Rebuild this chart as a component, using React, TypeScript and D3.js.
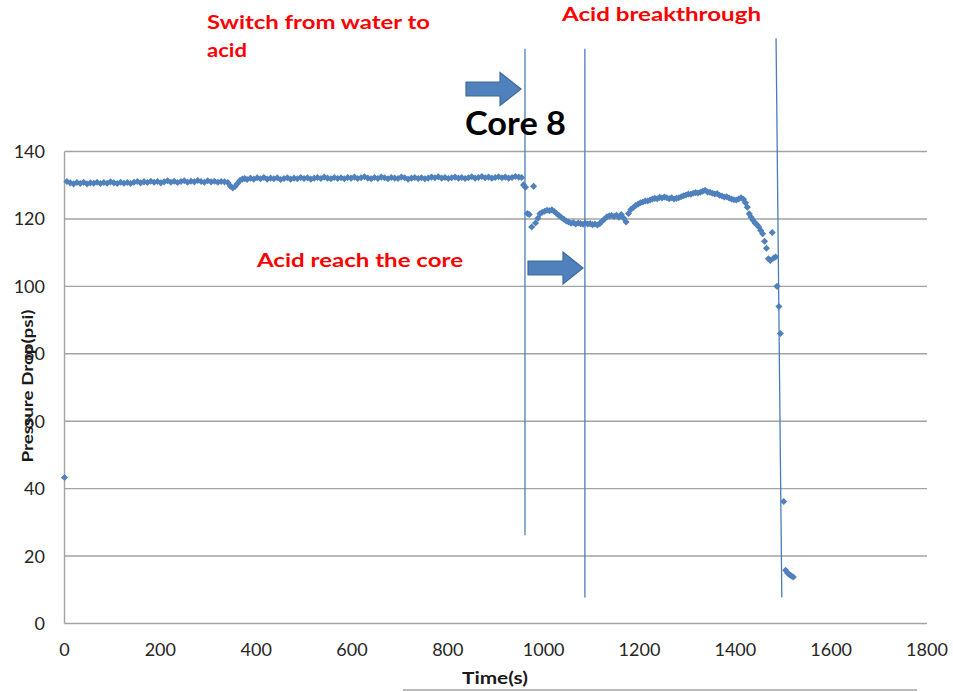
import React from "react";
import * as d3 from "d3";

// ---- data (time in s, pressure drop in psi) ----
const startPoint: [number, number][] = [[0, 43.3]];

const waterPhase: [number, number][] = [
  [5, 131.1], [12, 130.7], [19, 130.4], [26, 130.8], [33, 130.5], [40, 130.9], [47, 130.4], [54, 130.7],
  [61, 130.6], [68, 130.9], [75, 130.5], [82, 130.8], [89, 130.6], [96, 131.0], [103, 130.7], [110, 130.5],
  [117, 130.9], [124, 130.6], [131, 130.8], [138, 130.5], [145, 130.9], [152, 131.1], [159, 130.7], [166, 131.0],
  [173, 130.8], [180, 131.2], [187, 130.9], [194, 131.1], [201, 130.7], [208, 131.0], [215, 131.3], [222, 130.9],
  [229, 131.2], [236, 130.8], [243, 131.1], [250, 131.3], [257, 130.9], [264, 131.2], [271, 131.0], [278, 131.4],
  [285, 131.1], [292, 130.9], [299, 131.3], [306, 131.0], [313, 131.2], [320, 130.9], [327, 131.1], [334, 131.0],
  [341, 130.8], [346, 129.8], [351, 129.2], [356, 129.6], [361, 130.5], [366, 131.4], [371, 131.8], [376, 132.0],
  [381, 131.7], [388, 132.1], [395, 131.8], [402, 132.2], [409, 131.9], [416, 132.3], [423, 131.8], [430, 132.1],
  [437, 131.9], [444, 132.2], [451, 131.7], [458, 132.0], [465, 132.2], [472, 131.8], [479, 132.1], [486, 131.9],
  [493, 132.3], [500, 132.0], [507, 132.2], [514, 131.8], [521, 132.1], [528, 132.3], [535, 132.0], [542, 132.4],
  [549, 132.1], [556, 131.9], [563, 132.3], [570, 132.0], [577, 132.2], [584, 131.9], [591, 132.3], [598, 132.1],
  [605, 132.4], [612, 132.0], [619, 132.2], [626, 132.5], [633, 132.1], [640, 131.9], [647, 132.3], [654, 132.0],
  [661, 132.4], [668, 132.2], [675, 131.9], [682, 132.3], [689, 132.1], [696, 132.0], [703, 132.4], [710, 132.2],
  [717, 131.8], [724, 132.1], [731, 132.3], [738, 132.0], [745, 132.2], [752, 131.9], [759, 132.1], [766, 132.4],
  [773, 132.2], [780, 132.5], [787, 132.1], [794, 132.3], [801, 132.0], [808, 132.2], [815, 132.4], [822, 132.1],
  [829, 132.3], [836, 132.0], [843, 132.2], [850, 132.5], [857, 132.1], [864, 132.3], [871, 132.6], [878, 132.2],
  [885, 132.4], [892, 132.1], [899, 132.3], [906, 132.5], [913, 132.2], [920, 132.4], [927, 132.1], [934, 132.3],
  [941, 132.6], [948, 132.4], [954, 132.3],
];

const acidPhase: [number, number][] = [
  [958, 130.1], [962, 129.4], [966, 121.6], [970, 121.3], [975, 117.6], [979, 129.7], [983, 118.8], [988, 120.2],
  [992, 121.5], [997, 122.0], [1002, 122.3], [1007, 122.6], [1012, 122.4], [1017, 122.7], [1022, 122.2], [1027, 121.6],
  [1032, 121.0], [1037, 120.4], [1042, 119.9], [1047, 119.4], [1052, 119.1], [1057, 118.7], [1062, 118.9], [1067, 118.5],
  [1072, 118.8], [1077, 118.6], [1082, 118.4], [1087, 118.7], [1092, 118.5], [1097, 118.6], [1102, 118.3], [1107, 118.5],
  [1112, 118.2], [1117, 118.6], [1122, 119.3], [1127, 120.0], [1132, 120.6], [1137, 120.9], [1142, 121.0], [1147, 120.7],
  [1152, 121.1], [1157, 120.5], [1162, 121.3], [1167, 120.2], [1172, 119.1], [1177, 121.6], [1182, 122.8], [1187, 123.4],
  [1192, 124.0], [1197, 124.4], [1202, 124.8], [1207, 125.0], [1212, 125.3], [1217, 125.3], [1222, 125.6], [1227, 125.9],
  [1232, 126.1], [1237, 126.0], [1242, 126.4], [1247, 126.2], [1252, 126.5], [1257, 126.3], [1262, 126.0], [1267, 126.3],
  [1272, 125.9], [1277, 126.1], [1282, 126.3], [1287, 126.6], [1292, 126.9], [1297, 127.1], [1302, 127.4], [1307, 127.3],
  [1312, 127.6], [1317, 127.8], [1322, 127.7], [1327, 127.9], [1332, 128.2], [1337, 128.5], [1342, 128.0], [1347, 127.9],
  [1352, 127.6], [1357, 127.4], [1362, 127.5], [1367, 127.0], [1372, 126.8], [1377, 126.5], [1382, 126.6], [1387, 126.2],
  [1392, 125.9], [1397, 125.7], [1402, 125.6], [1407, 125.9], [1412, 126.3], [1417, 125.8], [1421, 124.8], [1425, 123.5],
  [1429, 121.5], [1433, 120.5], [1437, 119.6], [1441, 118.8], [1445, 118.3], [1449, 117.6], [1453, 116.6], [1457, 115.6],
  [1461, 113.4], [1465, 111.3], [1469, 108.2], [1473, 107.7], [1477, 116.0], [1480, 108.4], [1484, 108.7], [1487, 100.0],
  [1491, 94.0], [1494, 86.0], [1501, 36.2], [1505, 15.8], [1509, 15.0], [1513, 14.5], [1517, 14.1], [1521, 13.8],
];

const xTicks = [0, 200, 400, 600, 800, 1000, 1200, 1400, 1600, 1800];
const yTicks = [0, 20, 40, 60, 80, 100, 120, 140];

// annotation vertical lines: [time top, value top, time bottom, value bottom]
const eventLines: [number, number, number, number][] = [
  [961, 170.5, 961, 26.2],
  [1086, 170.5, 1086, 7.7],
  [1485, 173.6, 1497, 7.7],
];

const FONT = "Lato, 'Open Sans', 'Liberation Sans', sans-serif";

export default function App() {
  const x = d3.scaleLinear().domain([0, 1800]).range([64.5, 927]);
  const y = d3.scaleLinear().domain([0, 140]).range([623.5, 151.5]);
  const diamond = d3.symbol(d3.symbolSquare, 25)() as string;
  const points = [...startPoint, ...waterPhase, ...acidPhase];
  const blue = "#4f81bd";
  const grid = "#a3a3a3";

  const arrow = (x0: number, x1: number, xh: number, yc: number, bh: number, hh: number) =>
    `M${x0},${yc - bh} L${x1},${yc - bh} L${x1},${yc - hh} L${xh},${yc} L${x1},${yc + hh} L${x1},${yc + bh} L${x0},${yc + bh} Z`;

  return (
    <svg
      width={953}
      height={692}
      style={{ position: "absolute", left: 0, top: 0, display: "block", background: "#fff" }}
      fontFamily={FONT}
    >
      <rect x={0} y={0} width={953} height={692} fill="#fff" />
      {/* gridlines */}
      {yTicks.map((t) => (
        <line key={"g" + t} x1={x(0)} x2={x(1800)} y1={y(t)} y2={y(t)} stroke={grid} strokeWidth={1.4} />
      ))}
      <line x1={x(0)} x2={x(0)} y1={y(140)} y2={y(0)} stroke={grid} strokeWidth={1.4} />
      {/* y tick labels */}
      {yTicks.map((t) => (
        <text key={"yl" + t} x={45} y={y(t) + 6.5} textAnchor="end" fontSize={18} fill="#262626">
          {t}
        </text>
      ))}
      {/* x tick labels */}
      {xTicks.map((t) => (
        <text key={"xl" + t} x={x(t)} y={656} textAnchor="middle" fontSize={18} fill="#262626">
          {t}
        </text>
      ))}
      {/* axis titles */}
      <text x={495} y={684} textAnchor="middle" fontSize={17} fontWeight="bold" fill="#1a1a1a" textLength={66} lengthAdjust="spacingAndGlyphs">
        Time(s)
      </text>
      <text
        transform={`translate(33,386) rotate(-90)`}
        textAnchor="middle"
        fontSize={16}
        fontWeight="bold"
        fill="#1a1a1a"
        textLength={153}
        lengthAdjust="spacingAndGlyphs"
      >
        Pressure Drop(psi)
      </text>
      <line x1={403} x2={917} y1={690} y2={690} stroke={grid} strokeWidth={1.4} />

      {/* data markers */}
      {points.map(([t, v], i) => (
        <path key={"p" + i} d={diamond} transform={`translate(${x(t)},${y(v)}) rotate(45)`} fill={blue} />
      ))}

      {/* event lines */}
      {eventLines.map(([t0, v0, t1, v1], i) => (
        <line key={"e" + i} x1={x(t0)} y1={y(v0)} x2={x(t1)} y2={y(v1)} stroke="#4a7ebb" strokeWidth={1.3} />
      ))}

      {/* arrows */}
      <path d={arrow(466, 500, 521, 89, 7, 16.5)} fill={blue} stroke="#3f6a9c" strokeWidth={1.2} />
      <path d={arrow(528, 563, 583, 268, 7, 16)} fill={blue} stroke="#3f6a9c" strokeWidth={1.2} />

      {/* annotations */}
      <text x={207} y={29} fontSize={19} fontWeight="bold" fill="#ff0000" textLength={223} lengthAdjust="spacingAndGlyphs">
        Switch from water to
      </text>
      <text x={207} y={57} fontSize={19} fontWeight="bold" fill="#ff0000" textLength={40} lengthAdjust="spacingAndGlyphs">
        acid
      </text>
      <text x={562} y={21} fontSize={19} fontWeight="bold" fill="#ff0000" textLength={199} lengthAdjust="spacingAndGlyphs">
        Acid breakthrough
      </text>
      <text x={257} y={267} fontSize={19} fontWeight="bold" fill="#ff0000" textLength={206} lengthAdjust="spacingAndGlyphs">
        Acid reach the core
      </text>
      <text x={465} y={135} fontSize={33} fontWeight="bold" fill="#000" textLength={101} lengthAdjust="spacingAndGlyphs">
        Core 8
      </text>
    </svg>
  );
}
